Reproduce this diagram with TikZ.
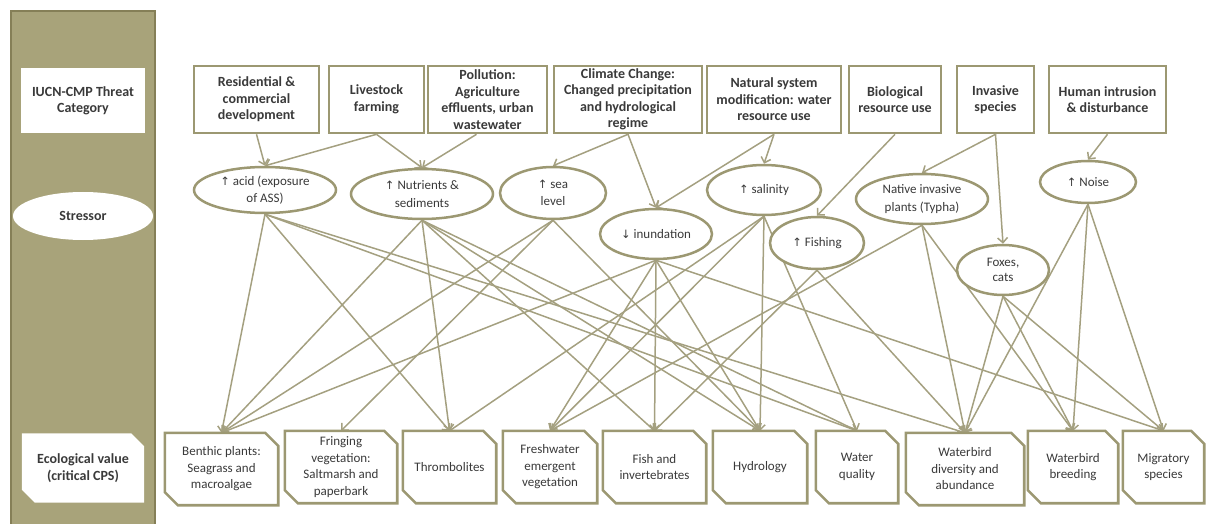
\documentclass[tikz,border=0pt]{standalone}
\usepackage{fontspec}
\setmainfont{Carlito}
\newfontfamily\symfont{DejaVu Sans}
\usetikzlibrary{arrows.meta,shapes.geometric,calc,backgrounds}

\definecolor{panelfill}{HTML}{A8A37A}
\definecolor{paneledge}{HTML}{857F57}
\definecolor{boxedge}{HTML}{9C9872}
\definecolor{linkcol}{HTML}{A4A080}
\definecolor{txt}{HTML}{3A3A3A}

\newcommand\uparr{{\symfont\fontsize{11.5}{16}\selectfont ↑}}
\newcommand\dnarr{{\symfont\fontsize{11.5}{16}\selectfont ↓}}

\pgfdeclarelayer{back}
\pgfdeclarelayer{links}
\pgfdeclarelayer{frames}
\pgfsetlayers{back,links,frames,main}

% outline with the top-right and bottom-left corners cut off
\newcommand\snipframe[2]{%
  \begin{pgfonlayer}{frames}
    \path[#2] (#1.north west) -- ($(#1.north east)+(-13,0)$) -- ($(#1.north east)+(0,13)$)
      -- (#1.south east) -- ($(#1.south west)+(13,0)$) -- ($(#1.south west)+(0,-13)$) -- cycle;
  \end{pgfonlayer}}

\begin{document}
\begin{tikzpicture}[x=1pt,y=-1pt,
  every node/.style={font=\fontsize{13}{16.5}\selectfont, text=txt, align=center, inner sep=0pt},
  bold/.style={font=\bfseries\fontsize{14}{16.5}\selectfont},
  ovaltext/.style={font=\fontsize{13}{17.5}\selectfont},
  threat/.style={bold, draw=boxedge, line width=2.6pt, fill=white, minimum height=67pt},
  stress/.style={ellipse, ovaltext, draw=boxedge, line width=2.5pt, fill=white},
  value/.style={minimum height=72pt},
  valueframe/.style={draw=boxedge, line width=2.6pt, fill=white, line join=miter},
  link/.style={draw=linkcol, line width=1.5pt, -{Straight Barb[length=5pt,width=10pt,line width=1.5pt]}},
]
\useasboundingbox (0,0) rectangle (1208,524);

% side panel with row labels
\begin{pgfonlayer}{back}
  \path[fill=panelfill, draw=paneledge, line width=1.6pt] (11,11) rectangle (155,532);
\end{pgfonlayer}
\node[bold, fill=white, minimum width=124pt, minimum height=65pt] (lthreat) at (83,101) {IUCN-CMP Threat\\Category};
\node[bold, ellipse, fill=white, minimum width=140pt, minimum height=48pt] (lstress) at (83,216) {Stressor};
\node[bold, minimum width=122pt, minimum height=69pt] (lvalue) at (83,468) {Ecological value\\(critical CPS)};
\snipframe{lvalue}{fill=white}

% threat categories
\node[threat, minimum width=125pt] (res)  at (256.5,99.5) {Residential \&\\commercial\\development};
\node[threat, minimum width=95pt]  (live) at (376.5,99.5) {Livestock\\farming};
\node[threat, minimum width=119pt] (pol)  at (487.5,99.5) {Pollution:\\Agriculture\\effluents, urban\\wastewater};
\node[threat, minimum width=148pt] (cli)  at (628,99.5)   {Climate Change:\\Changed precipitation\\and hydrological\\regime};
\node[threat, minimum width=134pt] (nat)  at (774,99.5)   {Natural system\\modification: water\\resource use};
\node[threat, minimum width=92pt]  (bio)  at (895,99.5)   {Biological\\resource use};
\node[threat, minimum width=77pt]  (inv)  at (995.5,99.5) {Invasive\\species};
\node[threat, minimum width=117pt] (hum)  at (1107.5,99.5) {Human intrusion\\\& disturbance};

% stressors
\node[stress, minimum width=142pt, minimum height=46pt] (acid)  at (265,190)  {\uparr{} acid (exposure\\of ASS)};
\node[stress, minimum width=142pt, minimum height=50pt] (nut)   at (422,194)  {\uparr{} Nutrients \&\\sediments};
\node[stress, minimum width=106pt, minimum height=52pt] (sea)   at (553,193)  {\uparr{} sea\\level};
\node[stress, minimum width=112pt, minimum height=50pt] (inu)   at (656,234)  {\dnarr{} inundation};
\node[stress, minimum width=114pt, minimum height=50pt] (sal)   at (764,190)  {\uparr{} salinity};
\node[stress, minimum width=94pt,  minimum height=52pt] (fsh)   at (817,243)  {\uparr{} Fishing};
\node[stress, minimum width=132pt, minimum height=50pt] (typha) at (922,199)  {Native invasive\\plants (Typha)};
\node[stress, minimum width=92pt,  minimum height=50pt, font=\fontsize{13}{15.5}\selectfont] (fox) at (1003,270) {Foxes,\\cats};
\node[stress, minimum width=96pt,  minimum height=42pt] (noise) at (1088,182) {\uparr{} Noise};

% ecological values
\node[value, minimum width=113pt] (ben)   at (221.5,469) {Benthic plants:\\Seagrass and\\macroalgae};
\node[value, minimum width=112pt] (frg)   at (341,467)   {Fringing\\vegetation:\\Saltmarsh and\\paperbark};
\node[value, minimum width=93pt]  (thr)   at (449.5,467) {Thrombolites};
\node[value, minimum width=94pt]  (frw)   at (550,467)   {Freshwater\\emergent\\vegetation};
\node[value, minimum width=103pt] (finv)  at (654.5,467) {Fish and\\invertebrates};
\node[value, minimum width=94pt]  (hyd)   at (760,467)   {Hydrology};
\node[value, minimum width=82pt]  (wq)    at (857,467)   {Water\\quality};
\node[value, minimum width=118pt] (wbd)   at (965,469)   {Waterbird\\diversity and\\abundance};
\node[value, minimum width=90pt]  (wbb)   at (1073,467)  {Waterbird\\breeding};
\node[value, minimum width=81pt]  (mig)   at (1163.5,467) {Migratory\\species};
\foreach \n in {ben,frg,thr,frw,finv,hyd,wq,wbd,wbb,mig} {\snipframe{\n}{valueframe}}

% threat -> stressor
\begin{pgfonlayer}{links}
\foreach \a/\b in {res/acid, live/acid, live/nut, cli/sea, cli/inu, nat/inu, nat/sal,
                   bio/fsh, inv/typha, inv/fox, hum/noise}
  {\draw[link] (\a.south) -- (\b.north);}
\draw[link] ($(pol.south)+(-11,0)$) -- (nut.north);

% stressor -> ecological value
\foreach \a/\b in {acid/ben, acid/thr, acid/wq, acid/wbd,
                   nut/ben, nut/thr, nut/finv, nut/hyd, nut/wq,
                   sea/ben, sea/frg, sea/hyd,
                   inu/ben, inu/frw, inu/finv, inu/hyd, inu/mig,
                   sal/thr, sal/frw, sal/hyd, sal/wq,
                   fsh/finv, fsh/wbd,
                   typha/frw, typha/wbd, typha/wbb,
                   fox/wbd, fox/wbb, fox/mig,
                   noise/wbd, noise/wbb, noise/mig}
  {\draw[link] (\a.south) -- (\b.north);}
\end{pgfonlayer}
\end{tikzpicture}
\end{document}
